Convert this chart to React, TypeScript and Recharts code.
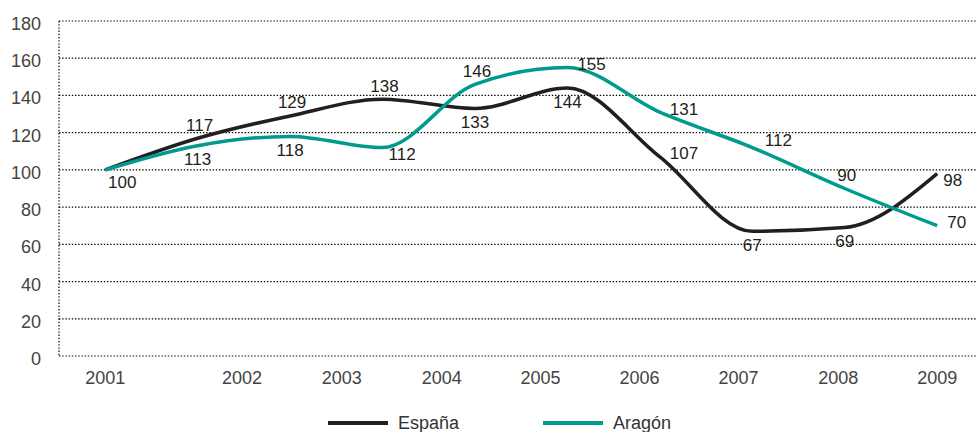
import { LineChart, Line, XAxis, YAxis, CartesianGrid, Legend, LabelList } from 'recharts'

const BLACK = '#231f20'
const TEAL = '#009b8c'
const FONT = '"Liberation Sans", Arial, sans-serif'

// one point every 92px along the axis, years are placed separately
const points = [0, 1, 2, 3, 4, 5, 6, 7, 8, 9]
const espana = [100, 117, 129, 138, 133, 144, 107, 67, 69, 98]
const aragon = [100, 113, 118, 112, 146, 155, 131, 112, 90, 70]

const yearLabels = ['2001', '2002', '2003', '2004', '2005', '2006', '2007', '2008', '2009']
const yearTicks = [0, 1.48, 2.56, 3.64, 4.71, 5.78, 6.85, 7.93, 9]
const yTicks = [0, 20, 40, 60, 80, 100, 120, 140, 160, 180]

const espanaLabelSide = ['bottomRight', 'top', 'top', 'top', 'bottom', 'bottom', 'right', 'bottom', 'bottom', 'lowRight']
const aragonLabelSide = ['none', 'bottom', 'bottom', 'lowRight', 'top', 'right', 'right', 'topRight', 'top', 'right']

const chartData = points.map((x, i) => ({ x, espana: espana[i], aragon: aragon[i] }))

const SIDES: Record<string, [number, number, 'start' | 'middle']> = {
  top: [2, -13, 'middle'],
  bottom: [0, 14, 'middle'],
  right: [10, -3, 'start'],
  lowRight: [6, 7, 'start'],
  bottomRight: [17, 13, 'middle'],
  topRight: [26, -7, 'middle'],
}

function makeLabel(sides: string[]) {
  return (props: any) => {
    const { x, y, value, index } = props
    const side = sides[index]
    if (!side || side === 'none') return null
    const [dx, dy, anchor] = SIDES[side]
    return (
      <text
        key={index}
        x={x + dx}
        y={y + dy}
        textAnchor={anchor}
        dominantBaseline="central"
        fontFamily={FONT}
        fontSize={17}
        fill={BLACK}
      >
        {value}
      </text>
    )
  }
}

function YTick(props: any) {
  const { x, y, payload } = props
  return (
    <text x={x} y={y + 3} textAnchor="end" dominantBaseline="central" fontFamily={FONT} fontSize={18} fill="#444">
      {payload.value}
    </text>
  )
}

function renderLegend() {
  const items = [
    { name: 'España', color: BLACK, left: 328 },
    { name: 'Aragón', color: TEAL, left: 543 },
  ]
  return (
    <div style={{ position: 'relative', height: 18, width: 979 }}>
      {items.map((it) => (
        <div key={it.name} style={{ position: 'absolute', left: it.left, top: 0, height: 18, display: 'flex', alignItems: 'center' }}>
          <span style={{ display: 'inline-block', width: 60, height: 4, background: it.color }} />
          <span style={{ marginLeft: 10, fontFamily: FONT, fontSize: 18, color: '#333', lineHeight: '18px' }}>{it.name}</span>
        </div>
      ))}
    </div>
  )
}

export default function App() {
  return (
    <div style={{ position: 'absolute', left: 0, top: 0, background: '#fff' }}>
      <LineChart width={979} height={432} data={chartData} margin={{ top: 21, right: 3, left: 0, bottom: 0 }}>
        <CartesianGrid vertical={false} stroke="#000" strokeWidth={1.2} strokeDasharray="1.4 1.8" />
        <XAxis
          dataKey="x"
          type="number"
          domain={[-0.5, 9.42]}
          ticks={yearTicks}
          interval={0}
          tickFormatter={(v: number) => yearLabels[yearTicks.indexOf(v)]}
          axisLine={false}
          tickLine={false}
          tickSize={0}
          tickMargin={15}
          height={58}
          tick={{ fontFamily: FONT, fontSize: 18, fill: '#444' }}
        />
        <YAxis
          domain={[0, 180]}
          ticks={yTicks}
          interval={0}
          width={59}
          axisLine={{ stroke: '#000', strokeWidth: 1.2, strokeDasharray: '1.4 1.8' }}
          tickLine={false}
          tickSize={0}
          tickMargin={18}
          tick={<YTick />}
        />
        <Legend verticalAlign="bottom" wrapperStyle={{ left: 0, width: 979 }} content={renderLegend} />
        <Line type="monotone" dataKey="espana" name="España" stroke={BLACK} strokeWidth={3.5} dot={false} isAnimationActive={false}>
          <LabelList dataKey="espana" content={makeLabel(espanaLabelSide)} />
        </Line>
        <Line type="monotone" dataKey="aragon" name="Aragón" stroke={TEAL} strokeWidth={3.5} dot={false} isAnimationActive={false}>
          <LabelList dataKey="aragon" content={makeLabel(aragonLabelSide)} />
        </Line>
      </LineChart>
    </div>
  )
}
